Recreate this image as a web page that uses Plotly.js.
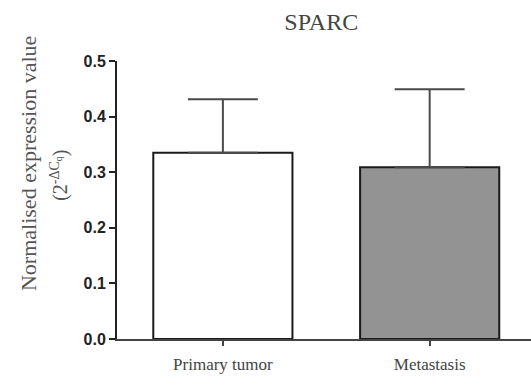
<!DOCTYPE html>
<html>
<head>
<meta charset="utf-8">
<script src="https://cdn.plot.ly/plotly-3.0.1.min.js"></script>
<style>html,body{margin:0;padding:0;background:#fff;}#chart{width:531px;height:385px;}</style>
</head>
<body>
<div id="chart"></div>
<script>
const categories = ["Primary tumor", "Metastasis"];
const means = [0.335, 0.309];
const sdUpper = [0.096, 0.140];
const barColors = ["#ffffff", "#939393"];
const yTicks = [0.0, 0.1, 0.2, 0.3, 0.4, 0.5];
const yTickText = ["0.0", "0.1", "0.2", "0.3", "0.4", "0.5"];

const trace = {
  type: "bar",
  x: categories,
  y: means,
  width: 0.673,
  marker: { color: barColors, line: { color: "#1a1a1a", width: 2 } },
  error_y: {
    type: "data",
    symmetric: false,
    array: sdUpper,
    arrayminus: [0, 0],
    color: "#4a4a4a",
    thickness: 2,
    width: 35
  },
  hoverinfo: "none"
};

const serif = "Liberation Serif, Times New Roman, serif";

const layout = {
  width: 531,
  height: 385,
  margin: { l: 117, r: 0, t: 61, b: 46, pad: 0 },
  paper_bgcolor: "#ffffff",
  plot_bgcolor: "#ffffff",
  showlegend: false,
  title: {
    text: "SPARC",
    x: 0.605, xanchor: "center",
    y: 0.943, yanchor: "middle",
    font: { family: serif, size: 24, color: "#444444" }
  },
  xaxis: {
    type: "category",
    range: [-0.512, 1.49],
    showline: true,
    linecolor: "#444444",
    linewidth: 2,
    ticks: "outside",
    ticklen: 5,
    tickwidth: 2,
    tickcolor: "#444444",
    showgrid: false,
    zeroline: false,
    ticklabelstandoff: 4,
    tickfont: { family: serif, size: 17, color: "#444444" }
  },
  yaxis: {
    range: [0, 0.5],
    tickvals: yTicks,
    ticktext: yTickText,
    showline: true,
    linecolor: "#222222",
    linewidth: 2,
    ticks: "outside",
    ticklen: 6,
    tickwidth: 2,
    tickcolor: "#222222",
    showgrid: false,
    zeroline: false,
    tickfont: { family: "Liberation Sans, Arial, sans-serif", size: 16, color: "#222222", weight: "bold" }
  },
  annotations: [
    {
      text: "Normalised expression value",
      xref: "paper", yref: "paper",
      x: -0.215, y: 0.633,
      xanchor: "center", yanchor: "middle",
      textangle: -90,
      showarrow: false,
      font: { family: serif, size: 22, color: "#555555" }
    },
    {
      text: "(2<sup>-ΔC<sub>q</sub></sup>)",
      xref: "paper", yref: "paper",
      x: -0.138, y: 0.59,
      xanchor: "center", yanchor: "middle",
      textangle: -90,
      showarrow: false,
      font: { family: serif, size: 20, color: "#555555" }
    }
  ]
};

Plotly.newPlot("chart", [trace], layout, { displayModeBar: false, staticPlot: true });
</script>
</body>
</html>
